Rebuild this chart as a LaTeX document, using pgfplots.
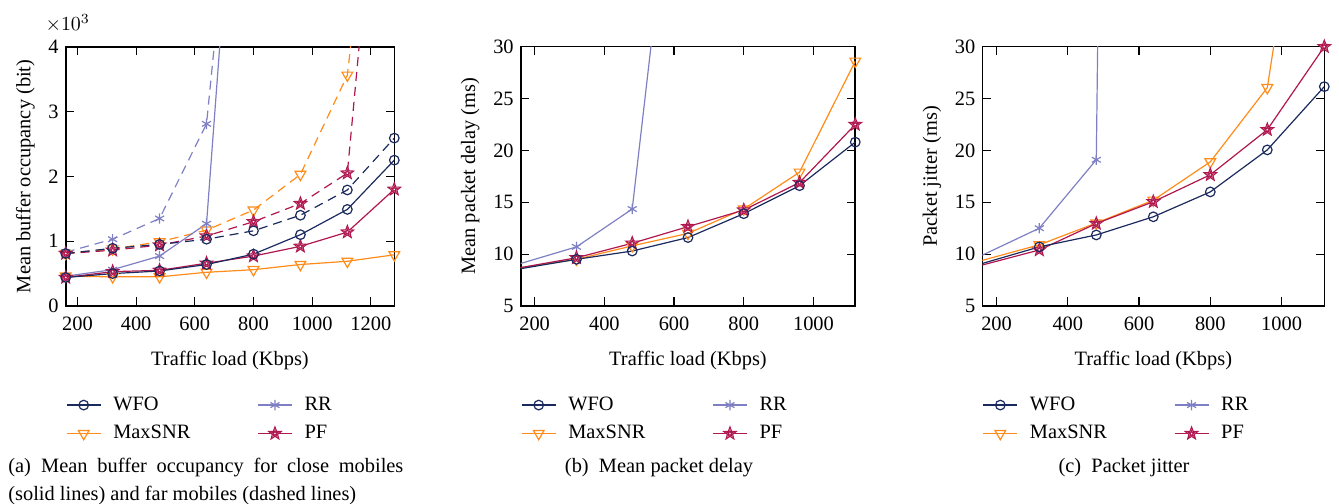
\documentclass[border=0pt]{standalone}
\usepackage{fontspec}
\setmainfont{Liberation Serif}
\usepackage{pgfplots}
\pgfplotsset{compat=1.18}
\usetikzlibrary{plotmarks}
\definecolor{cWFO}{HTML}{1B2A5E}
\definecolor{cMX}{HTML}{FF8C1A}
\definecolor{cRR}{HTML}{7F80C4}
\definecolor{cPF}{HTML}{B0174F}
\pgfdeclareplotmark{pentastar}{%
  \pgfpathmoveto{\pgfpointpolar{90}{\pgfplotmarksize}}%
  \pgfpathlineto{\pgfpointpolar{126}{0.42\pgfplotmarksize}}%
  \pgfpathlineto{\pgfpointpolar{162}{\pgfplotmarksize}}%
  \pgfpathlineto{\pgfpointpolar{198}{0.42\pgfplotmarksize}}%
  \pgfpathlineto{\pgfpointpolar{234}{\pgfplotmarksize}}%
  \pgfpathlineto{\pgfpointpolar{270}{0.42\pgfplotmarksize}}%
  \pgfpathlineto{\pgfpointpolar{306}{\pgfplotmarksize}}%
  \pgfpathlineto{\pgfpointpolar{342}{0.42\pgfplotmarksize}}%
  \pgfpathlineto{\pgfpointpolar{18}{\pgfplotmarksize}}%
  \pgfpathlineto{\pgfpointpolar{54}{0.42\pgfplotmarksize}}%
  \pgfpathclose
  \pgfusepathqfillstroke
  \pgfpathmoveto{\pgfpointpolar{90}{0.45\pgfplotmarksize}}%
  \pgfpathlineto{\pgfpointpolar{126}{0.2\pgfplotmarksize}}%
  \pgfpathlineto{\pgfpointpolar{162}{0.45\pgfplotmarksize}}%
  \pgfpathlineto{\pgfpointpolar{198}{0.2\pgfplotmarksize}}%
  \pgfpathlineto{\pgfpointpolar{234}{0.45\pgfplotmarksize}}%
  \pgfpathlineto{\pgfpointpolar{270}{0.2\pgfplotmarksize}}%
  \pgfpathlineto{\pgfpointpolar{306}{0.45\pgfplotmarksize}}%
  \pgfpathlineto{\pgfpointpolar{342}{0.2\pgfplotmarksize}}%
  \pgfpathlineto{\pgfpointpolar{18}{0.45\pgfplotmarksize}}%
  \pgfpathlineto{\pgfpointpolar{54}{0.2\pgfplotmarksize}}%
  \pgfpathclose
  \pgfusepathqstroke
}
\pgfplotsset{
  wfo/.style={color=cWFO, line width=0.6bp, mark=o, mark size=2.4bp, mark options={solid, line width=0.6bp}},
  mx/.style={color=cMX, line width=0.6bp, mark=triangle, mark size=3.1bp, mark options={solid, rotate=180, fill=none, line width=0.6bp}},
  rr/.style={color=cRR, line width=0.6bp, mark=asterisk, mark size=2.6bp, mark options={solid, line width=0.6bp}},
  pf/.style={color=cPF, line width=0.6bp, mark=pentastar, mark size=3.3bp, mark options={solid, fill=white, line width=0.55bp}},
  dsh/.style={dash pattern=on 4.5bp off 3bp},
  common/.style={
    scale only axis, height=129.65bp,
    axis line style={line width=0.8bp, black},
    tick style={black, line width=0.6bp},
    tick align=inside, xtick pos=both, ytick pos=both,
    /pgf/number format/assume math mode=true,
    /pgf/number format/1000 sep={},
    clip marker paths=false,
    xticklabel style={yshift=-2bp},
    xlabel={Traffic load (Kbps)},
    xlabel style={yshift=-3.5bp},
    legend columns=2, legend cell align=left,
    legend style={draw=none, fill=none, at={(axis description cs:0,-0.318)}, anchor=north west,
      /tikz/every odd column/.append style={column sep=4bp},
      /tikz/every even column/.append style={column sep=31.5bp}, row sep=2bp, inner xsep=0pt},
  },
}
\begin{document}
\begin{tikzpicture}[font=\fontsize{10.2bp}{12bp}\selectfont]
\useasboundingbox (0,0) rectangle (669.5bp,252bp);
% ---------------- (a)
\begin{axis}[common, at={(32.85bp,99bp)}, anchor=south west, width=164.3bp,
  xmin=160, xmax=1280, ymin=0, ymax=4000,
  xtick={200,400,...,1200}, ytick={0,1000,2000,3000,4000},
  scaled y ticks=base 10:-3,
  ytick scale label code/.code={$\times 10^{3}$},
  every y tick scale label/.style={at={(rel axis cs:0,1)}, anchor=south, xshift=1bp, yshift=7bp, inner sep=0pt},
  ylabel={Mean buffer occupancy (bit)}]
\addlegendimage{wfo}\addlegendentry{WFO}
\addlegendimage{rr}\addlegendentry{RR}
\addlegendimage{mx}\addlegendentry{MaxSNR}
\addlegendimage{pf}\addlegendentry{PF}
% far mobiles (dashed)
\addplot[forget plot, mx, dsh, mark indices={1,2,3,4,5,6,7}] coordinates {(160,810) (320,880) (480,990) (640,1170) (800,1480) (960,2030) (1120,3560) (1280,10000)};
\addplot[forget plot, rr, dsh, mark indices={1,2,3,4}] coordinates {(160,830) (320,1030) (480,1350) (640,2810) (800,10100)};
\addplot[forget plot, pf, dsh, mark indices={1,2,3,4,5,6,7}] coordinates {(160,810) (320,860) (480,940) (640,1080) (800,1300) (960,1580) (1120,2050) (1280,9850)};
\addplot[forget plot, wfo, dsh] coordinates {(160,810) (320,890) (480,950) (640,1030) (800,1160) (960,1400) (1120,1790) (1280,2590)};
% close mobiles (solid)
\addplot[forget plot, mx] coordinates {(160,460) (320,450) (480,450) (640,520) (800,560) (960,640) (1120,690) (1280,790)};
\addplot[forget plot, rr, mark indices={1,2,3,4}] coordinates {(160,460) (320,560) (480,770) (640,1270) (800,11000)};
\addplot[forget plot, pf] coordinates {(160,440) (320,530) (480,550) (640,660) (800,770) (960,920) (1120,1140) (1280,1800)};
\addplot[forget plot, wfo] coordinates {(160,440) (320,500) (480,540) (640,640) (800,800) (960,1100) (1120,1490) (1280,2250)};
\end{axis}
% ---------------- (b)
\begin{axis}[common, at={(260.35bp,99bp)}, anchor=south west, width=167.3bp,
  xmin=160, xmax=1120, ymin=5, ymax=30,
  xtick={200,400,...,1000}, ytick={5,10,...,30},
  ylabel={Mean packet delay (ms)}]
\addlegendimage{wfo}\addlegendentry{WFO}
\addlegendimage{rr}\addlegendentry{RR}
\addlegendimage{mx}\addlegendentry{MaxSNR}
\addlegendimage{pf}\addlegendentry{PF}
\addplot[forget plot, rr, mark indices={2,3}] coordinates {(160,9.1) (320,10.7) (480,14.35) (640,61)};
\addplot[forget plot, mx, mark indices={2,3,4,5,6,7}] coordinates {(160,8.7) (320,9.5) (480,10.8) (640,12.0) (800,14.35) (960,17.9) (1120,28.6)};
\addplot[forget plot, pf, mark indices={2,3,4,5,6,7}] coordinates {(160,8.7) (320,9.65) (480,11.05) (640,12.65) (800,14.25) (960,16.9) (1120,22.5)};
\addplot[forget plot, wfo, mark indices={2,3,4,5,6,7}] coordinates {(160,8.6) (320,9.5) (480,10.3) (640,11.6) (800,13.9) (960,16.6) (1120,20.8)};
\end{axis}
% ---------------- (c)
\begin{axis}[common, at={(491.15bp,99bp)}, anchor=south west, width=171bp,
  xmin=160, xmax=1120, ymin=5, ymax=30,
  xtick={200,400,...,1000}, ytick={5,10,...,30},
  ylabel={Packet jitter (ms)}]
\addlegendimage{wfo}\addlegendentry{WFO}
\addlegendimage{rr}\addlegendentry{RR}
\addlegendimage{mx}\addlegendentry{MaxSNR}
\addlegendimage{pf}\addlegendentry{PF}
\addplot[forget plot, rr, mark indices={2,3}] coordinates {(160,9.9) (320,12.5) (480,19.1) (640,480)};
\addplot[forget plot, mx, mark indices={2,3,4,5,6}] coordinates {(160,9.4) (320,10.9) (480,13.0) (640,15.2) (800,18.9) (960,26.05) (1120,61.5)};
\addplot[forget plot, pf, mark indices={2,3,4,5,6,7}] coordinates {(160,8.95) (320,10.4) (480,12.95) (640,15.05) (800,17.65) (960,22.0) (1120,30.0)};
\addplot[forget plot, wfo, mark indices={2,3,4,5,6,7}] coordinates {(160,9.1) (320,10.7) (480,11.85) (640,13.6) (800,16.0) (960,20.05) (1120,26.15)};
\end{axis}
% captions
\node[anchor=base west, inner sep=0pt] at (4bp,15.75bp) {\makebox[197.5bp][s]{(a)\enspace Mean buffer occupancy for close mobiles}};
\node[anchor=base west, inner sep=0pt] at (4bp,2bp) {(solid lines) and far mobiles (dashed lines)};
\node[anchor=base, inner sep=0pt] at (329.5bp,15.75bp) {(b)\enspace Mean packet delay};
\node[anchor=base, inner sep=0pt] at (562bp,15.75bp) {(c)\enspace Packet jitter};
\end{tikzpicture}
\end{document}
